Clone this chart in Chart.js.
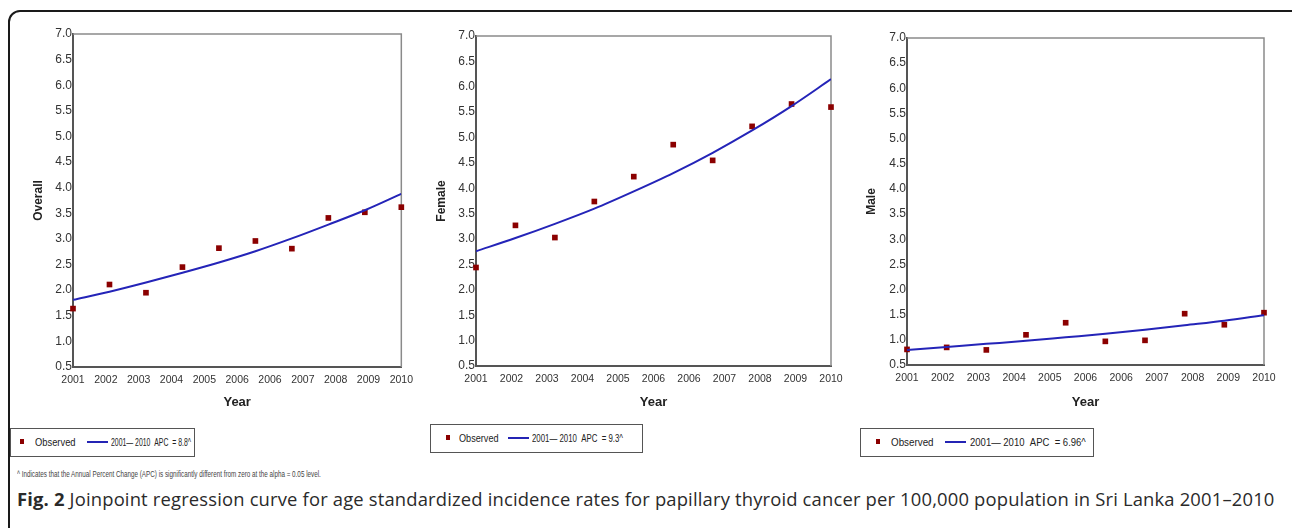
<!DOCTYPE html>
<html>
<head>
<meta charset="utf-8">
<script src="https://cdn.jsdelivr.net/npm/chart.js@4.4.1/dist/chart.umd.min.js"></script>
<style>
  body { margin: 0; width: 1292px; height: 528px; background: #fff; position: relative; overflow: hidden;
         font-family: "Liberation Sans", Arial, sans-serif; }
  .frame { position: absolute; left: 8px; top: 10px; width: 1300px; height: 600px;
           border: 2px solid #1a1a1a; border-radius: 12px; }
  canvas.panel { position: absolute; top: 0; }
  .legend { position: absolute; height: 27px; border: 1px solid #555; background: #fff;
            font-size: 10.5px; color: #222; white-space: nowrap; }
  .legend span { position: absolute; top: 7px; }
  .legend .fit { transform-origin: left center; }
  .legend .dot { width: 4px; height: 5px; background: #8b0000; top: 10px; }
  .legend .ln { width: 21px; height: 2px; background: #2424b4; top: 12px; }
  .note { position: absolute; left: 17px; top: 469px; font-size: 9px; color: #444; white-space: nowrap;
          transform: scaleX(0.7); transform-origin: left; }
  .caption { position: absolute; left: 17px; top: 486px; font-family: "Open Sans", sans-serif;
             font-size: 18.4px; letter-spacing: 0.17px; color: #2a2a2a; white-space: nowrap; }
</style>
</head>
<body>
<div class="frame"></div>
<canvas id="c1" class="panel"></canvas>
<canvas id="c2" class="panel"></canvas>
<canvas id="c3" class="panel"></canvas>

<div class="legend" style="left:10px; top:428px; width:183px;">
  <span class="dot" style="left:9px"></span><span class="fit" data-w="41" style="left:24px">Observed</span>
  <span class="ln" style="left:76px"></span><span class="fit" data-w="80" style="left:100px">2001&#8212; 2010 &nbsp;APC &nbsp;= 8.8^</span>
</div>
<div class="legend" style="left:430px; top:424px; width:211px;">
  <span class="dot" style="left:15px"></span><span class="fit" data-w="40" style="left:28px">Observed</span>
  <span class="ln" style="left:77px"></span><span class="fit" data-w="91" style="left:101px">2001&#8212; 2010 &nbsp;APC &nbsp;= 9.3^</span>
</div>
<div class="legend" style="left:860px; top:428px; width:232px;">
  <span class="dot" style="left:15px"></span><span class="fit" data-w="43" style="left:30px">Observed</span>
  <span class="ln" style="left:84px"></span><span class="fit" data-w="116" style="left:109px">2001&#8212; 2010 &nbsp;APC &nbsp;= 6.96^</span>
</div>

<div class="note">^ Indicates that the Annual Percent Change (APC) is significantly different from zero at the alpha = 0.05 level.</div>
<div class="caption"><b>Fig. 2</b> Joinpoint regression curve for age standardized incidence rates for papillary thyroid cancer per 100,000 population in Sri Lanka 2001&#8211;2010</div>

<script>
// values
const years = [2001, 2002, 2003, 2004, 2005, 2006, 2007, 2008, 2009, 2010];
const overallObserved = [1.64, 2.11, 1.95, 2.45, 2.82, 2.96, 2.81, 3.41, 3.52, 3.62];
const overallFitted   = [1.81, 1.97, 2.15, 2.34, 2.54, 2.76, 3.01, 3.28, 3.56, 3.88];
const femaleObserved  = [2.44, 3.27, 3.03, 3.74, 4.23, 4.86, 4.55, 5.22, 5.66, 5.60];
const femaleFitted    = [2.76, 3.02, 3.30, 3.60, 3.94, 4.30, 4.70, 5.14, 5.62, 6.15];
const maleObserved    = [0.81, 0.85, 0.80, 1.10, 1.34, 0.97, 0.99, 1.52, 1.30, 1.54];
const maleFitted      = [0.80, 0.86, 0.92, 0.98, 1.05, 1.12, 1.20, 1.29, 1.38, 1.49];

// axis ranges / tick steps
const yMin = 0.5, yMax = 7.0, yStep = 0.5;
const xMin = 2001, xMax = 2010, xStep = 0.9;

const font = '"Liberation Sans", Arial, sans-serif';

// squeeze legend texts into the narrow widths of the original
document.querySelectorAll('.legend .fit').forEach(el => {
  el.style.transform = 'scaleX(' + (el.dataset.w / el.offsetWidth) + ')';
});

// where each panel sits on the page
const panels = [
  { id: 'c1', title: 'Overall', obs: overallObserved, fit: overallFitted, left: 0,   width: 420, axisW: 73, titlePad: 31,   top: 34, right: 15, xH: 53 },
  { id: 'c2', title: 'Female',  obs: femaleObserved,  fit: femaleFitted,  left: 420, width: 430, axisW: 56, titlePad: 14,   top: 36, right: 19, xH: 54 },
  { id: 'c3', title: 'Male',    obs: maleObserved,    fit: maleFitted,    left: 850, width: 442, axisW: 57, titlePad: 14,   top: 38, right: 28, xH: 55 },
];

// top and right edges of the plot box (left/bottom come from the axis borders)
const plotBox = {
  id: 'plotBox',
  beforeDatasetsDraw(chart) {
    const { ctx, chartArea: a } = chart;
    ctx.save();
    ctx.strokeStyle = '#8a8a8a';
    ctx.lineWidth = 1.5;
    ctx.beginPath();
    ctx.moveTo(a.left, a.top);
    ctx.lineTo(a.right, a.top);
    ctx.lineTo(a.right, a.bottom);
    ctx.stroke();
    ctx.restore();
  }
};

panels.forEach(p => {
  const canvas = document.getElementById(p.id);
  canvas.width = p.width;
  canvas.height = 420;
  canvas.style.left = p.left + 'px';

  new Chart(canvas, {
    type: 'scatter',
    data: {
      datasets: [
        {
          // fitted joinpoint curve, drawn on top
          data: years.map((y, i) => ({ x: y, y: p.fit[i] })),
          showLine: true,
          borderColor: '#2424b8',
          borderWidth: 2,
          pointRadius: 0,
          cubicInterpolationMode: 'monotone',
        },
        {
          data: years.map((y, i) => ({ x: y, y: p.obs[i] })),
          pointStyle: 'rect',
          pointRadius: 4,
          backgroundColor: '#8b0000',
          borderColor: '#8b0000',
          borderWidth: 0,
          clip: false,
        }
      ]
    },
    options: {
      responsive: false,
      animation: false,
      layout: { padding: { top: p.top, right: p.right, left: 0, bottom: 0 } },
      plugins: { legend: { display: false }, tooltip: { enabled: false } },
      scales: {
        x: {
          type: 'linear', min: xMin, max: xMax,
          grid: { display: false, drawTicks: false },
          border: { color: '#555', width: 2 },
          ticks: {
            stepSize: xStep, autoSkip: false, maxRotation: 0, padding: 7,
            color: '#333', font: { size: 10.5, family: font },
            callback: v => String(Math.round(v)),
          },
          title: { display: true, text: 'Year', color: '#222',
                   font: { size: 13, weight: 'bold', family: font }, padding: { top: 0, bottom: 10 } },
          afterFit: s => { s.height = p.xH; },
        },
        y: {
          min: yMin, max: yMax,
          grid: { display: false, drawTicks: false },
          border: { color: '#555', width: 2 },
          ticks: {
            stepSize: yStep, padding: 1,
            color: '#333', font: { size: 12, family: font },
            callback: v => v.toFixed(1),
          },
          title: { display: true, text: p.title, color: '#222',
                   font: { size: 12, weight: 'bold', family: font }, padding: { top: p.titlePad, bottom: 0 } },
          afterFit: s => { s.width = p.axisW; },
        }
      }
    },
    plugins: [plotBox]
  });
});
</script>
</body>
</html>
